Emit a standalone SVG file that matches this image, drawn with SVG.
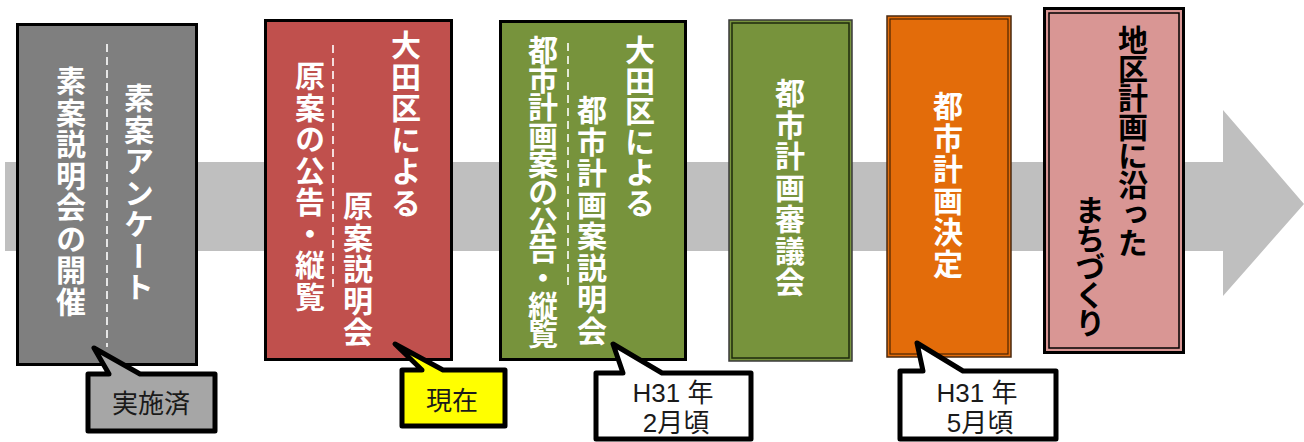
<svg xmlns="http://www.w3.org/2000/svg" width="1304" height="442" viewBox="0 0 1304 442">
<style>
.v{writing-mode:vertical-rl;font-family:"Noto Sans CJK JP","Noto Sans CJK SC",sans-serif;font-weight:bold;font-size:30px;fill:#fff;letter-spacing:1.5px}
.dk{fill:#000}
.dash{stroke:#fff;stroke-width:1.6;stroke-dasharray:8 5;fill:none}
.call{stroke:#000;stroke-width:5;stroke-linejoin:round}
.ct{font-family:"Liberation Sans","Noto Sans CJK JP",sans-serif;font-size:26px;fill:#1a1a1a;text-anchor:middle}
</style>
<g id="timeline">
<polygon points="5,162 1223,162 1223,110 1304,204 1223,296 1223,251 5,251" fill="#bfbfbf"/>
</g>
<g id="step1">
<rect x="17.5" y="24.5" width="179" height="340" fill="#7f7f7f" stroke="#000" stroke-width="3"/>
<line x1="107" y1="44" x2="107" y2="347" class="dash"/>
<text class="v" x="139" y="83">素案アンケート</text>
<text class="v" x="71" y="66">素案説明会の開催</text>
</g>
<g id="step2">
<rect x="265.5" y="20.5" width="186" height="339" fill="#c0504d" stroke="#000" stroke-width="3"/>
<line x1="333" y1="45" x2="333" y2="290" class="dash"/>
<text class="v" x="406" y="30">大田区による</text>
<text class="v" x="358" y="191">原案説明会</text>
<text class="v" x="310" y="61">原案の公告・縦覧</text>
</g>
<g id="step3">
<rect x="500.5" y="21.5" width="185" height="338" fill="#77933c" stroke="#000" stroke-width="3"/>
<line x1="568" y1="43" x2="568" y2="290" class="dash"/>
<text class="v" x="640" y="35" style="letter-spacing:0.5px">大田区による</text>
<text class="v" x="592" y="95">都市計画案説明会</text>
<text class="v" x="543" y="35" style="letter-spacing:-1.6px">都市計画案の公告・縦覧</text>
</g>
<g id="step4">
<rect x="729" y="20" width="123" height="341" fill="#77933c" stroke="#3a3a3a" stroke-width="1.5"/>
<rect x="732" y="23" width="117" height="335" fill="none" stroke="#1e2a0c" stroke-width="1.5"/>
<text class="v" x="790" y="78">都市計画審議会</text>
</g>
<g id="step5">
<rect x="887" y="16" width="124" height="341" fill="#e36c0a" stroke="#4a2a10" stroke-width="1.5"/>
<rect x="890" y="19" width="118" height="335" fill="none" stroke="#4a2300" stroke-width="1.2"/>
<text class="v" x="948" y="91">都市計画決定</text>
</g>
<g id="step6">
<rect x="1044.5" y="8.5" width="139" height="344" fill="#d99694" stroke="#000" stroke-width="3"/>
<rect x="1049" y="13" width="130" height="335" fill="none" stroke="#000" stroke-width="1.5"/>
<text class="v dk" x="1133" y="25" style="letter-spacing:-1px">地区計画に沿った</text>
<text class="v dk" x="1090" y="195" style="letter-spacing:-1.8px">まちづくり</text>
</g>
<g id="callout-done">
<path class="call" d="M88,374 L109,374 L94,348 L140,374 L215,374 L215,431 L88,431 Z" fill="#a6a6a6"/>
<text class="ct" x="151" y="413">実施済</text>
</g>
<g id="callout-now">
<path class="call" d="M402,370 L422,370 L395,344 L443,370 L505,370 L505,426 L402,426 Z" fill="#ffff00"/>
<text class="ct" x="452" y="410">現在</text>
</g>
<g id="callout-feb">
<path class="call" d="M596,373 L623,373 L613,344 L662,373 L751,373 L751,439 L596,439 Z" fill="#fff"/>
<text class="ct" x="673" y="402">H31 年</text>
<text class="ct" x="676" y="432">2月頃</text>
</g>
<g id="callout-may">
<path class="call" d="M900,371 L923,371 L917,343 L963,371 L1056,371 L1056,439 L900,439 Z" fill="#fff"/>
<text class="ct" x="977" y="402">H31 年</text>
<text class="ct" x="980" y="432">5月頃</text>
</g>
</svg>
